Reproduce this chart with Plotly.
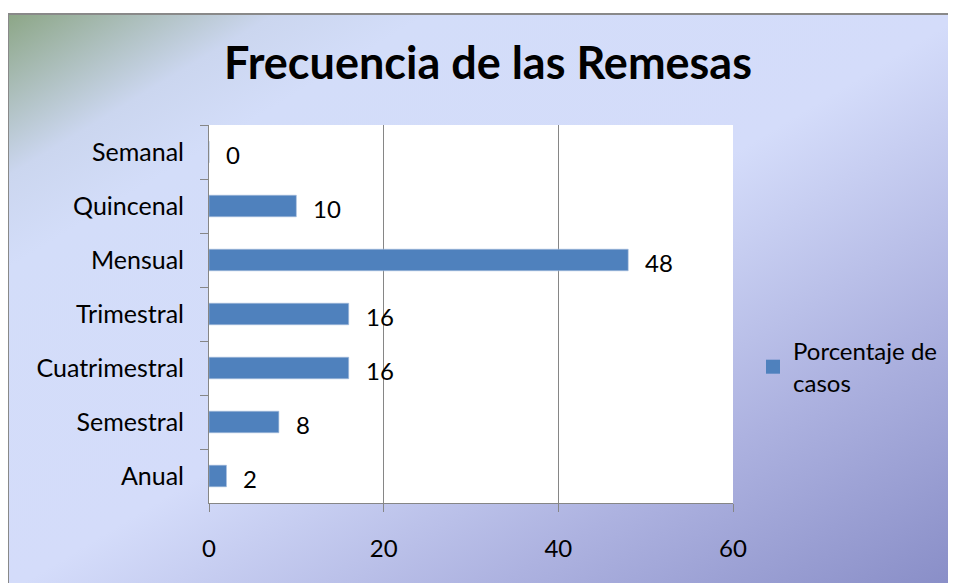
import base64
import plotly.graph_objects as go

categories = ["Semanal", "Quincenal", "Mensual", "Trimestral", "Cuatrimestral", "Semestral", "Anual"]
values = [0, 10, 48, 16, 16, 8, 2]
x_ticks = [0, 20, 40, 60]
series_name = "Porcentaje de<br>casos"
title_text = "Frecuencia de las Remesas"

W, H = 956, 583
OFF = 8  # page body margin
FONT = "Lato"
BAR_COLOR = "#4f81bd"

def px_x(p):
    return (p - OFF) / W

def px_y(p):
    return 1 - (p - OFF) / H

# Diagonal gradient background as an inline SVG
svg = (
    '<svg xmlns="http://www.w3.org/2000/svg" width="100" height="100" preserveAspectRatio="none">'
    '<defs><linearGradient id="g" x1="0" y1="0" x2="1" y2="1">'
    '<stop offset="0" stop-color="#8ca686"/>'
    '<stop offset="0.14" stop-color="#cbd6ef"/>'
    '<stop offset="0.22" stop-color="#d3ddf9"/>'
    '<stop offset="0.5" stop-color="#d4dcfa"/>'
    '<stop offset="0.75" stop-color="#adb2e0"/>'
    '<stop offset="1" stop-color="#878cc6"/>'
    '</linearGradient></defs>'
    '<rect x="0" y="0" width="100" height="100" fill="url(#g)"/></svg>'
)
svg_uri = "data:image/svg+xml;base64," + base64.b64encode(svg.encode()).decode()

fig = go.Figure()
fig.add_trace(go.Bar(
    y=categories, x=values, orientation="h", name=series_name,
    marker=dict(color=BAR_COLOR, line=dict(color="#a7bfde", width=0.6)),
    showlegend=False,
))
# legend entry with a larger square swatch
fig.add_trace(go.Scatter(
    x=[None], y=[None], mode="markers", name=series_name,
    marker=dict(symbol="square", size=14, color=BAR_COLOR),
    showlegend=True, hoverinfo="skip",
))

annotations = [
    dict(x=v, y=c, xref="x", yref="y", text=str(v), showarrow=False,
         xanchor="left", yanchor="middle", xshift=15, yshift=-2,
         font=dict(family=FONT, size=24, color="#000000"))
    for c, v in zip(categories, values)
]
annotations.append(dict(
    x=px_x(488), y=px_y(62), xref="paper", yref="paper", text="<b>" + title_text + "</b>",
    showarrow=False, xanchor="center", yanchor="middle",
    font=dict(family=FONT, size=45, color="#000000"),
))

gray = "#868686"
fig.update_layout(
    width=W, height=H,
    margin=dict(l=0, r=0, t=0, b=0, autoexpand=False),
    paper_bgcolor="#ffffff",
    plot_bgcolor="rgba(0,0,0,0)",
    font=dict(family=FONT, size=24, color="#000000"),
    bargap=0.6,
    xaxis=dict(
        domain=[px_x(209), px_x(733)], range=[0, 60], tickvals=x_ticks,
        showgrid=True, gridcolor=gray, gridwidth=1, zeroline=False,
        showline=True, linecolor=gray, linewidth=1,
        ticks="outside", ticklen=8, tickcolor=gray, tickwidth=1,
        ticklabelstandoff=16, tickfont=dict(family=FONT, size=24),
        fixedrange=True,
    ),
    yaxis=dict(
        domain=[px_y(503), px_y(125)], autorange="reversed", type="category",
        categoryorder="array", categoryarray=categories,
        showgrid=False, zeroline=False, showline=True, linecolor=gray, linewidth=1,
        ticks="outside", ticklen=8, tickcolor=gray, tickwidth=1, tickson="boundaries",
        ticklabelstandoff=19, tickfont=dict(family=FONT, size=25),
        fixedrange=True,
    ),
    legend=dict(
        x=px_x(753), y=px_y(329), xanchor="left", yanchor="top",
        bgcolor="rgba(0,0,0,0)", font=dict(family=FONT, size=24),
        itemwidth=30,
    ),
    images=[dict(
        source=svg_uri, xref="paper", yref="paper",
        x=px_x(8), y=px_y(14), sizex=(964 - 8) / W, sizey=(592 - 14) / H,
        xanchor="left", yanchor="top", sizing="stretch", layer="below",
    )],
    shapes=[
        dict(type="rect", xref="paper", yref="paper",
             x0=px_x(209), x1=px_x(733), y0=px_y(503), y1=px_y(125),
             fillcolor="#ffffff", line=dict(width=0), layer="below"),
        dict(type="rect", xref="paper", yref="paper",
             x0=px_x(8), x1=px_x(975), y0=px_y(14), y1=px_y(605),
             fillcolor="rgba(0,0,0,0)", line=dict(color="#898989", width=2), layer="above"),
    ],
    annotations=annotations,
)

fig.write_html("out.html")
